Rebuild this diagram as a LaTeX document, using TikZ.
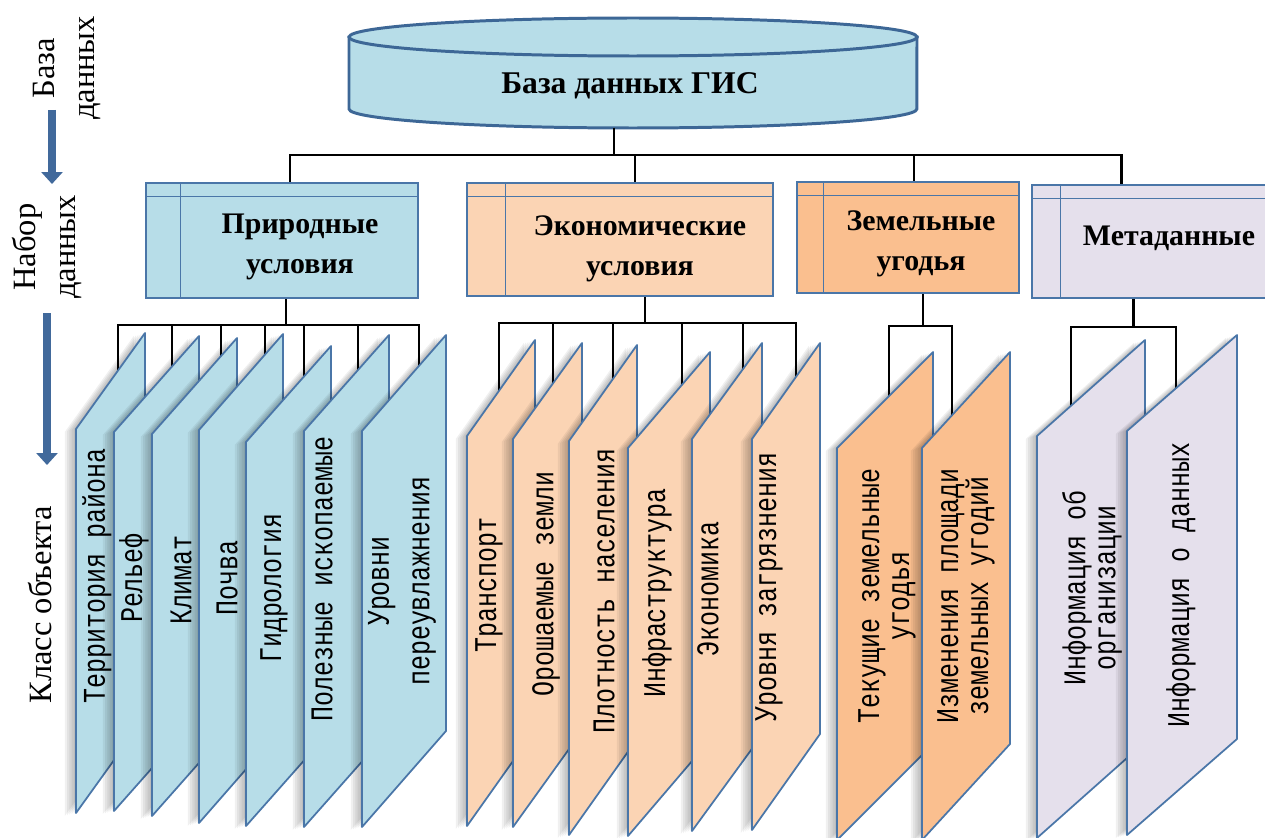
\documentclass[tikz,border=0pt]{standalone}
\usepackage{fontspec}
\setmainfont{Liberation Serif}
\newfontfamily\panelfont[FakeStretch=0.79]{Liberation Mono}
\usepackage{tikz}
\usetikzlibrary{arrows.meta, calc, fit}

\definecolor{natfill}{HTML}{B7DDE8}
\definecolor{ecofill}{HTML}{FBD4B4}
\definecolor{landfill}{HTML}{FABF8F}
\definecolor{metafill}{HTML}{E5E0EC}
\definecolor{edge}{HTML}{4A76A8}
\definecolor{dbedge}{HTML}{3D6796}
\definecolor{arrowblue}{HTML}{41699B}

\begin{document}
\begin{tikzpicture}[x=0.02cm, y=-0.02cm,
  link/.style={line width=1.4pt},
  setbox/.style={draw=edge, line width=0.9pt, inner sep=0pt},
  panel/.style={draw=edge, line width=1pt, line join=round},
  titletext/.style={font=\fontsize{18}{22}\selectfont\bfseries},
  settext/.style={font=\fontsize{17}{22.8}\selectfont\bfseries, align=center},
  paneltext/.style={font=\fontsize{18}{17}\selectfont\panelfont, rotate=90, align=center},
  sidetext/.style={font=\fontsize{18.5}{23}\selectfont, rotate=90, align=center},
  stage/.style={arrowblue, line width=5.1pt, -{Triangle[length=0.24cm, width=0.42cm]}}]
\useasboundingbox (0,0) rectangle (1265,838);

% levels on the left
\node[sidetext] (lvlbase) at (67,68) {База\\данных};
\node[sidetext] (lvlset) at (47,247) {Набор\\данных};
\node[sidetext] (lvlclass) at (40,605) {Класс объекта};
\coordinate (a1) at (52,110);
\coordinate (a2) at (52,184);
\coordinate (a3) at (47,313);
\coordinate (a4) at (47,465);
\draw[stage] (a1) -- (a2);
\draw[stage] (a3) -- (a4);

% database
\filldraw[fill=natfill, draw=dbedge, line width=1.7pt] (349,37) -- (349,109)
  arc[start angle=180, end angle=360, x radius=5.68cm, y radius=0.38cm] -- (917,37) -- cycle;
\filldraw[fill=natfill, draw=dbedge, line width=1.7pt] (633,37) ellipse[x radius=5.68cm, y radius=0.38cm];
\node[titletext] (db) at (630,86) {База данных ГИС};
\coordinate (dbbot) at (614,128);

% data sets
\node[setbox, fill=natfill, fit={(146,183) (418,298)}] (nat) {};
\node[setbox, fill=ecofill, fit={(467,183) (773,296)}] (eco) {};
\node[setbox, fill=landfill, fit={(797,182) (1019,293)}] (land) {};
\node[setbox, fill=metafill, fit={(1032,185) (1275,298)}] (meta) {};
\foreach \n/\v in {nat/35, eco/39, land/27, meta/29} {
  \draw[edge, line width=0.8pt] ([yshift=-0.29cm]\n.north west) -- ([yshift=-0.29cm]\n.north east);
  \draw[edge, line width=0.8pt] ([xshift=\v*0.02cm]\n.north west) -- ([xshift=\v*0.02cm]\n.south west);
}
\node[settext] (natT) at (300,247) {Природные\\условия};
\node[settext] (ecoT) at (640,249) {Экономические\\условия};
\node[settext] (landT) at (921,244) {Земельные\\угодья};
\node[settext] (metaT) at (1169,238) {Метаданные};

% connectors
\draw[link] (dbbot) -- ++(0,27) coordinate (bus);
\foreach \n/\dx in {nat/8, eco/15, land/6, meta/-32}
  \draw[link] (bus) -| ([xshift=\dx*0.02cm]\n.north);
\foreach \n/\dx/\len/\b in {nat/4/26/nb, eco/25/26/eb, land/15/32/lb, meta/-20/28/mb}
  \draw[link] ([xshift=\dx*0.02cm]\n.south) -- ++(0,\len) coordinate (\b);

% object classes
\foreach \xl/\xr/\yt/\h/\dx/\col/\bus [count=\i] in {
    76/145/429/384/118/natfill/nb, 114/199/432/379/172/natfill/nb,
    152/237/434/382/221/natfill/nb, 199/283/430/393/265/natfill/nb,
    246/331/442/384/304/natfill/nb, 304/389/431/396/358/natfill/nb,
    362/446/431/396/419/natfill/nb,
    467/535/436/390/499/ecofill/eb, 513/582/439/388/553/ecofill/eb,
    569/637/441/394/613/ecofill/eb, 628/710/448/388/682/ecofill/eb,
    692/762/439/392/743/ecofill/eb, 752/820/439/391/796/ecofill/eb,
    837/933/448/392/889/landfill/lb, 922/1010/448/392/952/landfill/lb,
    1037/1145/436/402/1071/metafill/mb, 1127/1237/431/404/1176/metafill/mb} {
  \coordinate (top\i) at (\dx, {\yt-96*(\dx-\xl)/(\xr-\xl)});
  \draw[link] (\bus) -| (top\i);
  \foreach \s in {1,...,5}
    \fill[black, opacity=.06, xshift=-\s*0.045cm, yshift=-\s*0.012cm]
      (\xl,\yt) -- (\xr,\yt-96) -- (\xr,\yt-96+\h) -- (\xl,\yt+\h) -- cycle;
  \filldraw[panel, fill=\col] (\xl,\yt) -- (\xr,\yt-96) -- (\xr,\yt-96+\h) -- (\xl,\yt+\h) -- cycle;
}
\foreach \x/\y/\t [count=\i] in {97/576/{Территория района}, 134/578/{Рельеф},
    181/580/{Климат}, 227/578/{Почва}, 274/588/{Гидрология},
    322/579/{Полезные ископаемые}, 402/581/{Уровни\\[6pt]переувлажнения},
    489/585/{Транспорт}, 546/584/{Орошаемые земли}, 604/591/{Плотность населения},
    657/593/{Инфраструктура}, 708/589/{Экономика}, 769/587/{Уровня загрязнения},
    887/596/{Текущие земельные\\угодья}, 966/596/{Изменения площади\\земельных угодий},
    1092/588/{Информация об\\организации}, 1181/585/{Информация о данных}}
  \node[paneltext] (cls\i) at (\x,\y) {\t};
\end{tikzpicture}
\end{document}
